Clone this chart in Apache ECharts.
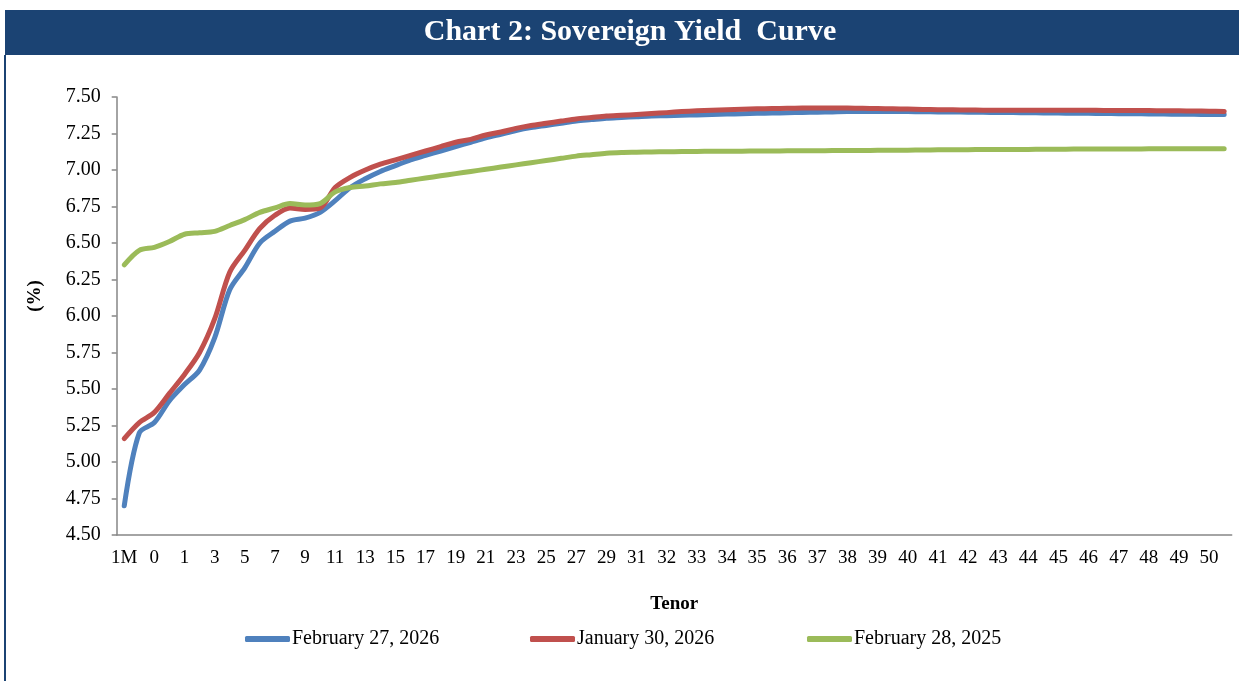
<!DOCTYPE html>
<html>
<head>
<meta charset="utf-8">
<script src="https://cdn.jsdelivr.net/npm/echarts@6/dist/echarts.min.js"></script>
<style>html,body{margin:0;padding:0;background:#fff;}#c{width:1239px;height:681px;}</style>
</head>
<body>
<div id="c"></div>
<script>
// Tenor categories (every second label is displayed)
var categories = ["1M","3M","0","0","1","2","3","4","5","6","7","8","9","10","11","12","13","14","15","16","17","18","19","20","21","22","23","24","25","26","27","28","29","30","31",
  "31.5","32","32.5","33","33.5","34","34.5","35","35.5","36","36.5","37","37.5","38","38.5","39","39.5","40","40.5","41","41.5","42","42.5","43","43.5","44","44.5","45","45.5","46","46.5","47","47.5","48","48.5","49","49.5","50","50.5"];

var feb2026 = [4.70,5.20,5.27,5.42,5.53,5.63,5.85,6.18,6.33,6.50,6.58,6.65,6.67,6.71,6.79,6.88,6.94,6.99,7.03,7.07,7.10,7.13,7.16,7.19,7.22,7.245,7.27,7.29,7.305,7.32,7.335,7.345,7.355,7.36,7.365,
  7.37,7.372,7.375,7.377,7.38,7.383,7.385,7.388,7.39,7.392,7.394,7.396,7.398,7.40,7.40,7.40,7.40,7.40,7.399,7.398,7.397,7.396,7.395,7.394,7.393,7.392,7.391,7.39,7.389,7.388,7.387,7.386,7.385,7.384,7.383,7.382,7.381,7.38,7.38];

var jan2026 = [5.16,5.27,5.34,5.47,5.60,5.75,5.98,6.30,6.45,6.60,6.69,6.74,6.73,6.74,6.88,6.95,7.00,7.04,7.07,7.10,7.13,7.16,7.19,7.21,7.24,7.26,7.285,7.305,7.32,7.335,7.35,7.36,7.37,7.375,7.38,
  7.387,7.393,7.40,7.405,7.41,7.413,7.416,7.419,7.421,7.423,7.424,7.425,7.425,7.424,7.423,7.421,7.419,7.417,7.415,7.413,7.412,7.411,7.41,7.41,7.41,7.41,7.41,7.409,7.409,7.409,7.408,7.408,7.407,7.407,7.406,7.405,7.404,7.403,7.40];

var feb2025 = [6.35,6.45,6.47,6.51,6.56,6.57,6.58,6.62,6.66,6.71,6.74,6.77,6.76,6.77,6.85,6.88,6.89,6.905,6.915,6.93,6.945,6.96,6.975,6.99,7.005,7.02,7.035,7.05,7.065,7.08,7.095,7.105,7.115,7.12,7.122,
  7.124,7.125,7.126,7.127,7.128,7.128,7.129,7.13,7.13,7.131,7.132,7.132,7.133,7.134,7.134,7.135,7.136,7.136,7.137,7.138,7.138,7.139,7.14,7.14,7.141,7.141,7.142,7.142,7.143,7.143,7.144,7.144,7.144,7.145,7.145,7.145,7.145,7.145,7.145];

var seriesNames = ["February 27, 2026","January 30, 2026","February 28, 2025"];
var seriesColors = ["#4F81BD","#C0504D","#9BBB59"];
var yTicks = {min:4.5, max:7.5, interval:0.25};

var serif = "'Liberation Serif','DejaVu Serif',serif";
var chart = echarts.init(document.getElementById('c'));
var dataSets = [feb2026, jan2026, feb2025];
var legendLeft = [245, 530, 807];

var option = {
  animation: false,
  backgroundColor: '#ffffff',
  graphic: [
    {type:'rect', shape:{x:5,y:10,width:1234,height:45}, style:{fill:'#1B4373'}, z:0},
    {type:'line', shape:{x1:5,y1:55,x2:5,y2:681}, style:{stroke:'#1B4373',lineWidth:2}},
    {type:'text', x:630, y:32, style:{text:'Chart 2: Sovereign Yield  Curve', fill:'#ffffff', font:'bold 30px ' + serif, textAlign:'center', textVerticalAlign:'middle'}},
    {type:'text', x:35, y:296, rotation:Math.PI/2, style:{text:'(%)', fill:'#000', font:'bold 19px ' + serif, textAlign:'center', textVerticalAlign:'middle'}}
  ],
  grid: {left:116.7, right:7.3, top:97, bottom:146, containLabel:false},
  legend: seriesNames.map(function(n,i){
    return {data:[n], left:legendLeft[i], top:629, padding:0, icon:'roundRect', itemWidth:45, itemHeight:6, itemGap:0,
      textStyle:{fontFamily:serif, fontSize:20, color:'#000', padding:[0,0,0,-3]}};
  }),
  xAxis: {
    type:'category', data:categories, boundaryGap:true,
    name:'Tenor', nameLocation:'middle', nameGap:60,
    nameTextStyle:{fontFamily:serif, fontSize:19, fontWeight:'bold', color:'#000'},
    axisLine:{lineStyle:{color:'#868686', width:1.5}},
    axisTick:{interval:0, length:5, lineStyle:{color:'#868686', width:1.5}},
    axisLabel:{interval:1, margin:14, fontFamily:serif, fontSize:19, color:'#000'},
    splitLine:{show:false}
  },
  yAxis: {
    type:'value', min:yTicks.min, max:yTicks.max, interval:yTicks.interval,
    axisLine:{show:true, lineStyle:{color:'#868686', width:1.5}},
    axisTick:{show:true, length:5, lineStyle:{color:'#868686', width:1.5}},
    axisLabel:{margin:16, fontFamily:serif, fontSize:20, color:'#000', formatter:function(v){return v.toFixed(2);}},
    splitLine:{show:false}
  },
  series: dataSets.map(function(d,i){
    return {name:seriesNames[i], type:'line', data:d, smooth:0.3, showSymbol:false, symbol:'none',
      color:seriesColors[i], lineStyle:{width:5, color:seriesColors[i], cap:'round', join:'round'}, z:3+i};
  })
};
chart.setOption(option);
</script>
</body>
</html>
